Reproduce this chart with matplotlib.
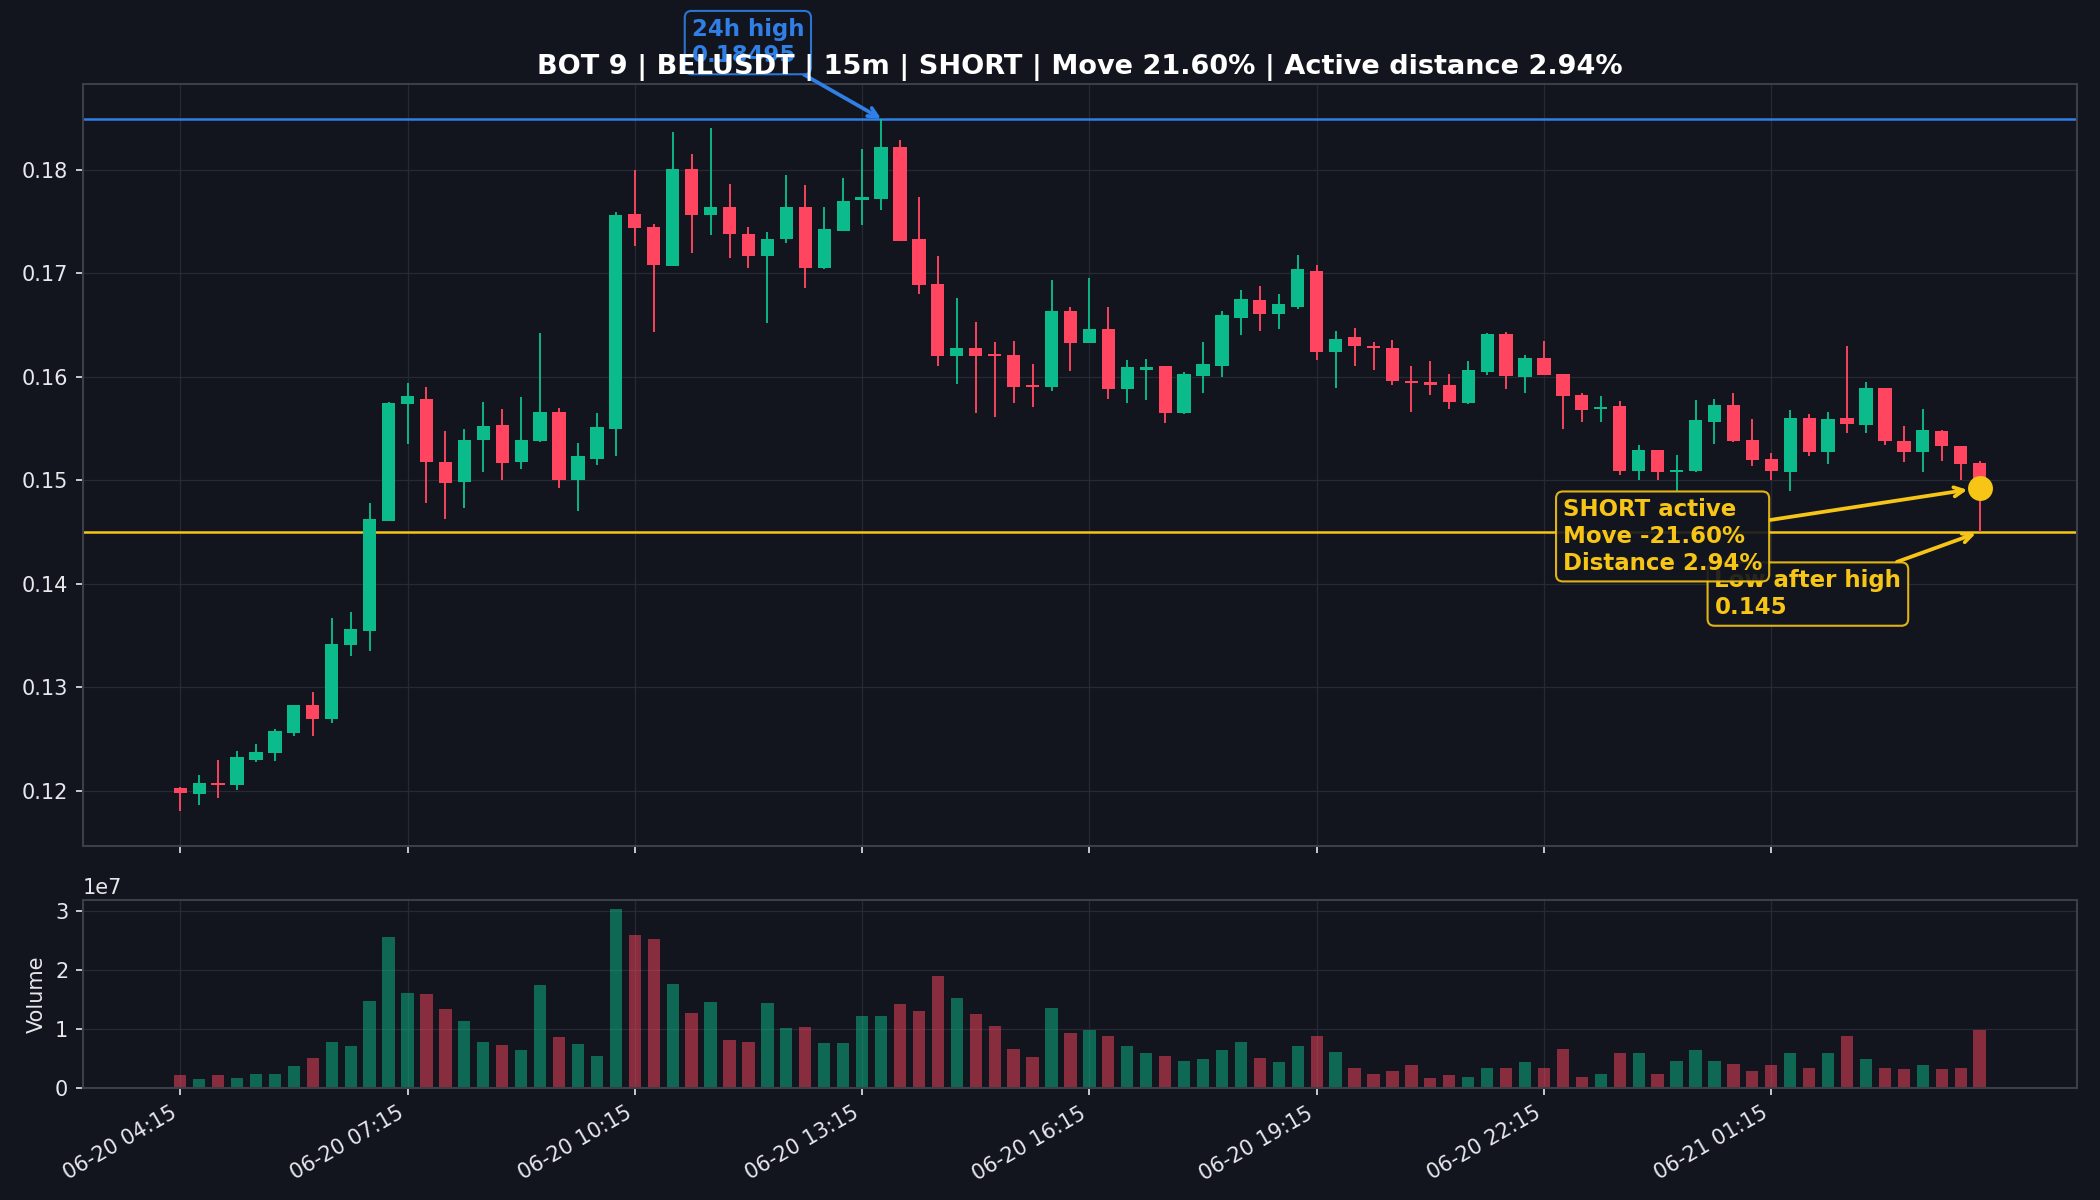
#!/usr/bin/env python3

import numpy as np
import matplotlib.pyplot as plt

# candle data, 15m, starting 06-20 04:15
opens = [0.1203, 0.1197, 0.1207, 0.1205, 0.1230, 0.1236, 0.1256, 0.1283, 0.1269, 0.1341,
         0.1354, 0.1461, 0.1574, 0.1579, 0.1518, 0.1498, 0.1539, 0.1553, 0.1518, 0.1538,
         0.1566, 0.1500, 0.1521, 0.1550, 0.1757, 0.1745, 0.1707, 0.1801, 0.1756, 0.1764,
         0.1738, 0.1717, 0.1733, 0.1764, 0.1705, 0.1741, 0.1771, 0.1772, 0.1822, 0.1733,
         0.1690, 0.1620, 0.1628, 0.1622, 0.1621, 0.1592, 0.1590, 0.1664, 0.1633, 0.1646,
         0.1588, 0.1607, 0.1610, 0.1565, 0.1601, 0.1610, 0.1657, 0.1674, 0.1661, 0.1667,
         0.1702, 0.1624, 0.1638, 0.1630, 0.1628, 0.1596, 0.1595, 0.1592, 0.1575, 0.1605,
         0.1641, 0.1600, 0.1618, 0.1603, 0.1582, 0.1569, 0.1572, 0.1509, 0.1529, 0.1508,
         0.1509, 0.1556, 0.1573, 0.1539, 0.1521, 0.1508, 0.1560, 0.1527, 0.1560, 0.1553,
         0.1589, 0.1538, 0.1527, 0.1548, 0.1533, 0.1517]
highs = [0.1204, 0.1215, 0.1230, 0.1238, 0.1245, 0.1260, 0.1283, 0.1295, 0.1367, 0.1373,
         0.1478, 0.1576, 0.1594, 0.1590, 0.1548, 0.1550, 0.1576, 0.1569, 0.1580, 0.1642,
         0.1570, 0.1536, 0.1565, 0.1759, 0.1800, 0.1748, 0.1837, 0.1815, 0.1840, 0.1786,
         0.1745, 0.1740, 0.1795, 0.1785, 0.1764, 0.1792, 0.1820, 0.18495, 0.1829, 0.1774,
         0.1717, 0.1676, 0.1653, 0.1634, 0.1635, 0.1612, 0.1694, 0.1667, 0.1695, 0.1667,
         0.1616, 0.1617, 0.1610, 0.1605, 0.1634, 0.1664, 0.1684, 0.1688, 0.1680, 0.1718,
         0.1708, 0.1644, 0.1647, 0.1634, 0.1636, 0.1610, 0.1615, 0.1603, 0.1615, 0.1642,
         0.1643, 0.1621, 0.1635, 0.1603, 0.1584, 0.1581, 0.1577, 0.1534, 0.1529, 0.1524,
         0.1578, 0.1579, 0.1584, 0.1559, 0.1526, 0.1568, 0.1564, 0.1566, 0.1630, 0.1595,
         0.1589, 0.1552, 0.1569, 0.1549, 0.1533, 0.1519]
lows = [0.1180, 0.1186, 0.1193, 0.1201, 0.1228, 0.1229, 0.1253, 0.1253, 0.1265, 0.1330,
        0.1335, 0.1461, 0.1535, 0.1478, 0.1463, 0.1473, 0.1508, 0.1500, 0.1511, 0.1537,
        0.1493, 0.1470, 0.1515, 0.1523, 0.1726, 0.1643, 0.1707, 0.1720, 0.1737, 0.1715,
        0.1705, 0.1652, 0.1729, 0.1686, 0.1704, 0.1741, 0.1747, 0.1761, 0.1731, 0.1680,
        0.1610, 0.1593, 0.1565, 0.1561, 0.1575, 0.1571, 0.1586, 0.1606, 0.1633, 0.1579,
        0.1575, 0.1578, 0.1555, 0.1564, 0.1584, 0.1600, 0.1640, 0.1644, 0.1646, 0.1666,
        0.1616, 0.1589, 0.1610, 0.1607, 0.1592, 0.1566, 0.1582, 0.1569, 0.1574, 0.1602,
        0.1588, 0.1584, 0.1602, 0.1550, 0.1556, 0.1556, 0.1505, 0.1500, 0.1500, 0.1490,
        0.1508, 0.1535, 0.1537, 0.1514, 0.1500, 0.1490, 0.1523, 0.1516, 0.1546, 0.1546,
        0.1534, 0.1518, 0.1508, 0.1519, 0.1500, 0.1450]
closes = [0.1198, 0.1207, 0.1205, 0.1233, 0.1237, 0.1258, 0.1283, 0.1269, 0.1342, 0.1356,
          0.1463, 0.1575, 0.1581, 0.1518, 0.1497, 0.1539, 0.1552, 0.1517, 0.1539, 0.1566,
          0.1500, 0.1523, 0.1551, 0.1756, 0.1744, 0.1708, 0.1801, 0.1756, 0.1764, 0.1738,
          0.1717, 0.1733, 0.1764, 0.1705, 0.1743, 0.1770, 0.1774, 0.1822, 0.1731, 0.1689,
          0.1620, 0.1628, 0.1620, 0.1620, 0.1590, 0.1590, 0.1664, 0.1633, 0.1646, 0.1588,
          0.1609, 0.1609, 0.1565, 0.1603, 0.1612, 0.1660, 0.1675, 0.1661, 0.1670, 0.1704,
          0.1624, 0.1637, 0.1630, 0.1628, 0.1596, 0.1594, 0.1592, 0.1576, 0.1607, 0.1641,
          0.1601, 0.1618, 0.1602, 0.1581, 0.1568, 0.1571, 0.1509, 0.1529, 0.1508, 0.1510,
          0.1558, 0.1573, 0.1538, 0.1520, 0.1509, 0.1560, 0.1527, 0.1559, 0.1554, 0.1589,
          0.1538, 0.1527, 0.1549, 0.1533, 0.1516, 0.14926]
volumes = [2.2, 1.56, 2.3, 1.84, 2.4, 2.5, 3.7, 5.2, 7.9, 7.2,
           14.7, 25.5, 16.1, 15.9, 13.4, 11.4, 7.9, 7.3, 6.5, 17.4,
           8.7, 7.5, 5.4, 30.3, 25.9, 25.2, 17.6, 12.7, 14.6, 8.2,
           7.8, 14.5, 10.2, 10.4, 7.6, 7.6, 12.3, 12.3, 14.2, 13.0,
           19.0, 15.3, 12.6, 10.6, 6.7, 5.3, 13.6, 9.4, 9.8, 8.9,
           7.2, 5.9, 5.4, 4.6, 4.9, 6.5, 7.8, 5.1, 4.5, 7.2,
           8.9, 6.1, 3.4, 2.4, 2.9, 3.9, 1.8, 2.2, 2.0, 3.5,
           3.4, 4.5, 3.5, 6.7, 2.0, 2.5, 6.0, 6.0, 2.4, 4.7,
           6.5, 4.7, 4.2, 2.9, 4.0, 6.0, 3.5, 5.9, 8.9, 4.9,
           3.4, 3.2, 3.9, 3.2, 3.5, 9.9]  # millions

tick_pos = [0, 12, 24, 36, 48, 60, 72, 84]
tick_labels = ["06-20 04:15", "06-20 07:15", "06-20 10:15", "06-20 13:15",
               "06-20 16:15", "06-20 19:15", "06-20 22:15", "06-21 01:15"]

high_24h = 0.18495
high_idx = 37
low_after_high = 0.145
current_price = 0.14926
move_pct = 21.60
distance_pct = 2.94

BG = "#12151d"
GREEN = "#0cbb8b"
RED = "#ff4560"
BLUE = "#2f7fe6"
YELLOW = "#f7c516"
GRID = "#252a35"
SPINE = "#3a3f4b"
TEXT = "#e6e8ec"


def main():
    o = np.array(opens)
    h = np.array(highs)
    l = np.array(lows)
    c = np.array(closes)
    v = np.array(volumes) * 1e6
    x = np.arange(len(o))
    up = c >= o
    colors = np.where(up, GREEN, RED)

    fig = plt.figure(figsize=(14, 8), dpi=150, facecolor=BG)
    ax = fig.add_axes([0.0395, 0.295, 0.9495, 0.635])
    axv = fig.add_axes([0.0395, 0.093, 0.9495, 0.157], sharex=ax)

    for a in (ax, axv):
        a.set_facecolor(BG)
        for s in a.spines.values():
            s.set_color(SPINE)
            s.set_linewidth(1.0)
        a.grid(True, color=GRID, linewidth=0.6)
        a.set_axisbelow(True)
        a.tick_params(colors=TEXT, labelsize=10)

    # candles
    ax.vlines(x, l, h, colors=colors, linewidth=0.9, zorder=2)
    body_bottom = np.minimum(o, c)
    body_h = np.maximum(np.abs(c - o), 0.00012)
    ax.bar(x, body_h, bottom=body_bottom, width=0.7, color=colors, zorder=3)

    ax.axhline(high_24h, color=BLUE, linewidth=1.2, zorder=1.5)
    ax.axhline(low_after_high, color=YELLOW, linewidth=1.2, zorder=1.5)
    ax.scatter([x[-1]], [current_price], s=120, color=YELLOW, zorder=5)

    ax.annotate("24h high\n%.5f" % high_24h, xy=(high_idx, high_24h),
                xytext=(27.0, 0.1923), textcoords="data", ha="left", va="center",
                color=BLUE, fontsize=11, fontweight="bold", annotation_clip=False,
                bbox=dict(boxstyle="round,pad=0.3", fc=BG, ec=BLUE, lw=1.0, alpha=0.9),
                arrowprops=dict(arrowstyle="->", color=BLUE, lw=1.8, shrinkA=0, shrinkB=0),
                zorder=4)

    ax.annotate("Low after high\n%.3f" % low_after_high, xy=(x[-1], low_after_high),
                xytext=(81.0, 0.1390), textcoords="data", ha="left", va="center",
                color=YELLOW, fontsize=11, fontweight="bold",
                bbox=dict(boxstyle="round,pad=0.3", fc=BG, ec=YELLOW, lw=1.0, alpha=0.9),
                arrowprops=dict(arrowstyle="->", color=YELLOW, lw=1.8, shrinkA=0, shrinkB=2),
                zorder=6)

    ax.annotate("SHORT active\nMove -%.2f%%\nDistance %.2f%%" % (move_pct, distance_pct),
                xy=(x[-1], current_price),
                xytext=(73.0, 0.14457), textcoords="data", ha="left", va="center",
                color=YELLOW, fontsize=11, fontweight="bold",
                bbox=dict(boxstyle="round,pad=0.3", fc=BG, ec=YELLOW, lw=1.0, alpha=0.9),
                arrowprops=dict(arrowstyle="->", color=YELLOW, lw=1.8, shrinkA=0, shrinkB=6),
                zorder=7)

    ax.set_title("BOT 9 | BELUSDT | 15m | SHORT | Move %.2f%% | Active distance %.2f%%"
                 % (move_pct, distance_pct),
                 color="white", fontsize=13, fontweight="bold", pad=5, zorder=10)

    # volume
    axv.bar(x, v, width=0.65, color=colors, alpha=0.5)
    axv.set_ylabel("Volume", color=TEXT, fontsize=10)
    axv.yaxis.get_offset_text().set_color(TEXT)
    axv.yaxis.get_offset_text().set_fontsize(10)

    axv.set_xticks(tick_pos)
    axv.set_xticklabels(tick_labels, rotation=30, ha="right")
    plt.setp(ax.get_xticklabels(), visible=False)

    fig.savefig("out.png", dpi=150, facecolor=BG)


if __name__ == "__main__":
    main()
